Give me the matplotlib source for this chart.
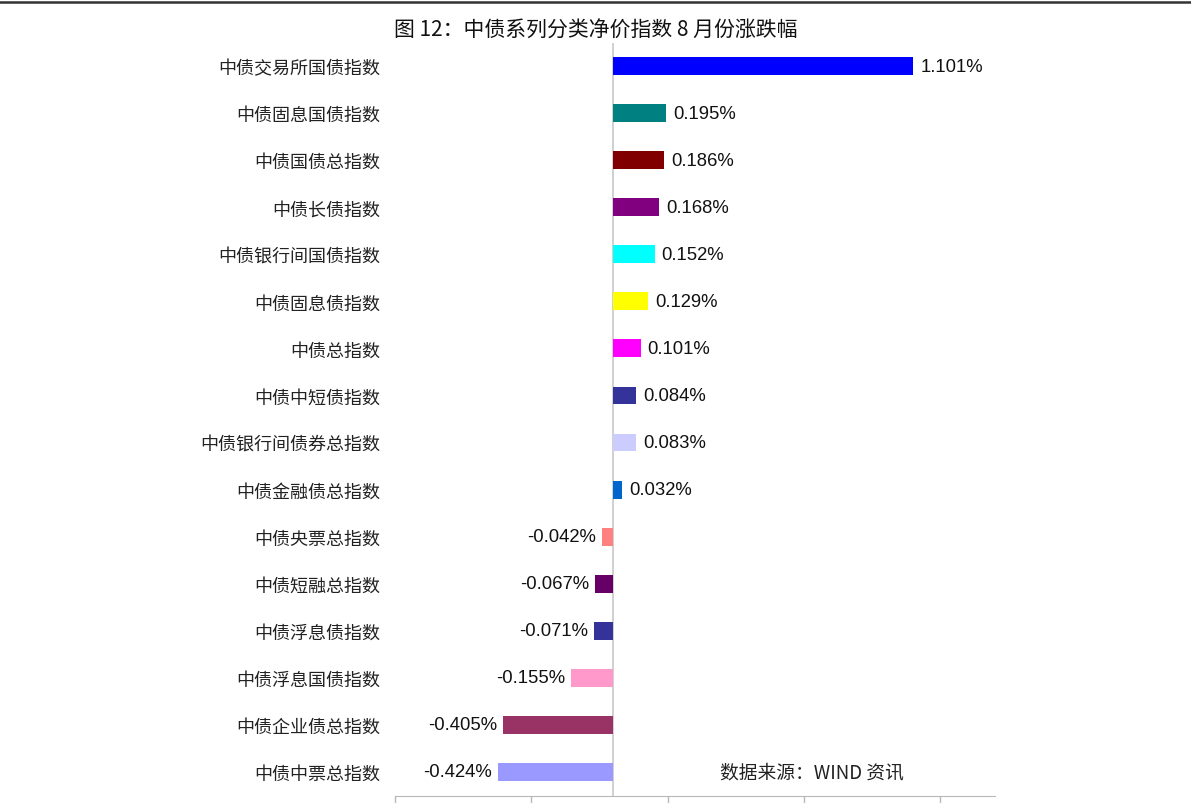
import matplotlib
matplotlib.use("Agg")
import matplotlib.pyplot as plt

plt.rcParams['font.family'] = ['Noto Sans CJK SC', 'DejaVu Sans']

categories = ["中债交易所国债指数", "中债固息国债指数", "中债国债总指数", "中债长债指数",
              "中债银行间国债指数", "中债固息债指数", "中债总指数", "中债中短债指数",
              "中债银行间债券总指数", "中债金融债总指数", "中债央票总指数", "中债短融总指数",
              "中债浮息债指数", "中债浮息国债指数", "中债企业债总指数", "中债中票总指数"]
values = [1.101, 0.195, 0.186, 0.168, 0.152, 0.129, 0.101, 0.084,
          0.083, 0.032, -0.042, -0.067, -0.071, -0.155, -0.405, -0.424]
colors = ["#0000FF", "#008080", "#800000", "#800080", "#00FFFF", "#FFFF00", "#FF00FF", "#333399",
          "#CCCCFF", "#0066CC", "#FF8080", "#660066", "#333399", "#FF99CC", "#993366", "#9999FF"]
xticks = [-0.8, -0.3, 0.2, 0.7, 1.2]
title = "图 12：中债系列分类净价指数 8 月份涨跌幅"
source = "数据来源：WIND 资讯"

fig = plt.figure(figsize=(11.91, 8.04), dpi=100)
ax = fig.add_axes([395/1191, 1 - 796.5/804, 600/1191, 753/804])

ypos = list(range(len(categories)))
ax.barh(ypos, values, height=0.38, color=colors)
ax.set_xlim(-0.8, 1.4)
ax.set_ylim(len(categories) - 0.5, -0.5)

for y, v in zip(ypos, values):
    if v >= 0:
        ax.annotate(f"{v:.3f}%", (v, y), xytext=(5, 0), textcoords="offset points",
                    ha="left", va="center", fontsize=13.3, family="Liberation Sans", color="#111")
    else:
        ax.annotate(f"{v:.3f}%", (v, y), xytext=(-4, 0), textcoords="offset points",
                    ha="right", va="center", fontsize=13.3, family="Liberation Sans", color="#111")

ax.set_yticks(ypos)
ax.set_yticklabels(categories, fontsize=13, color="#222")
ax.tick_params(axis="y", length=0, pad=10.5)
ax.set_xticks(xticks)
ax.set_xticklabels([])
ax.tick_params(axis="x", length=6, color="#b8b8b8", width=1)

for s in ["top", "right", "left"]:
    ax.spines[s].set_visible(False)
ax.spines["bottom"].set_color("#b8b8b8")
ax.axvline(0, color="#c8c8c8", lw=1.2, zorder=0)

fig.text(596/1191, 1 - 31/804, title, ha="center", va="center", fontsize=15, color="#111")
fig.text(812/1191, 1 - 773/804, source, ha="center", va="center", fontsize=13.5, color="#222")
fig.add_artist(plt.Line2D([0, 1], [1 - 3/804, 1 - 3/804], color="#333", lw=1.8,
                          transform=fig.transFigure))

fig.savefig("out.png", dpi=100)
